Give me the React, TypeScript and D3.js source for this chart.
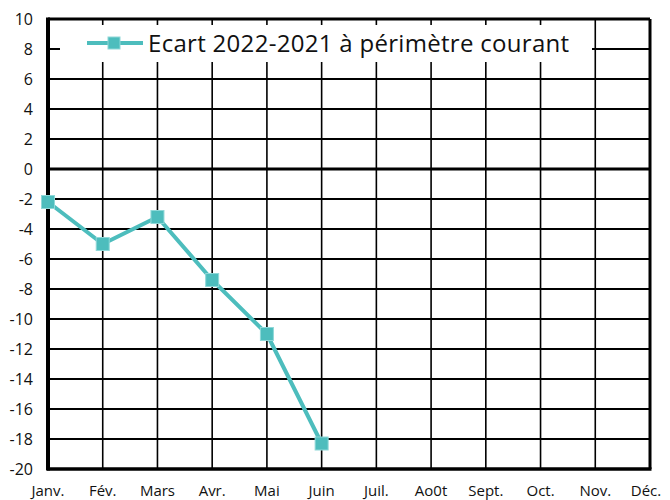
import * as d3 from "d3";

const width = 670;
const height = 500;
const marginTop = 19;
const marginBottom = 31;
const marginLeft = 48;
const marginRight = 20;

const months = ["Janv.", "Fév.", "Mars", "Avr.", "Mai", "Juin", "Juil.", "Ao0t", "Sept.", "Oct.", "Nov.", "Déc."];
const ecartMonths = ["Janv.", "Fév.", "Mars", "Avr.", "Mai", "Juin"];
const ecartValues = [-2.2, -5.0, -3.2, -7.4, -11.0, -18.3];
const yTicks = [10, 8, 6, 4, 2, 0, -2, -4, -6, -8, -10, -12, -14, -16, -18, -20];
const seriesName = "Ecart 2022-2021 à périmètre courant";

const teal = "#4dbdbd";
const font = "'Open Sans', sans-serif";

export default function App() {
	const x = d3
		.scalePoint<string>()
		.domain(months)
		.range([marginLeft, width - marginRight])
		.padding(0);

	const y = d3
		.scaleLinear()
		.domain([-20, 10])
		.range([height - marginBottom, marginTop]);

	const points = ecartMonths.map((m, i) => ({ m, v: ecartValues[i] }));

	const line = d3
		.line<{ m: string; v: number }>()
		.x((d) => x(d.m)!)
		.y((d) => y(d.v));

	const x0 = x.range()[0];
	const x1 = x.range()[1];

	// legend box
	const lgX = 60;
	const lgY = 25;
	const lgW = 532;
	const lgH = 37;

	return (
		<svg
			width={width}
			height={height}
			style={{ position: "absolute", left: 0, top: 0, background: "#fff" }}
		>
			{/* horizontal grid */}
			<g>
				{yTicks.map((t) => (
					<line
						key={t}
						x1={x0}
						x2={x1}
						y1={y(t)}
						y2={y(t)}
						stroke="#000"
						strokeWidth={t === 0 ? 3 : 2}
					/>
				))}
			</g>
			{/* vertical grid */}
			<g>
				{months.map((m) => (
					<line
						key={m}
						x1={x(m)}
						x2={x(m)}
						y1={y(10)}
						y2={y(-20)}
						stroke="#000"
						strokeWidth={1.6}
					/>
				))}
			</g>
			{/* frame */}
			<line x1={x0} x2={x1} y1={y(10)} y2={y(10)} stroke="#000" strokeWidth={3} />
			<line x1={x1} x2={x1} y1={y(10)} y2={y(-20)} stroke="#000" strokeWidth={3} />
			<line x1={x0 - 1} x2={x1 + 1.5} y1={y(-20)} y2={y(-20)} stroke="#000" strokeWidth={3.5} />
			<line x1={x0} x2={x0} y1={y(10) - 1.5} y2={y(-20) + 1.5} stroke="#000" strokeWidth={4} />

			{/* legend */}
			<rect x={lgX} y={lgY} width={lgW} height={lgH} fill="#fff" />
			<line x1={87} x2={143} y1={43} y2={43} stroke={teal} strokeWidth={4} />
			<rect x={108} y={37} width={12} height={12} fill={teal} stroke="#8fd8d8" strokeWidth={1} />
			<text x={148} y={52} fontFamily={font} fontSize={24} letterSpacing={0.3} fill="#111">
				{seriesName}
			</text>

			{/* series */}
			<path d={line(points) ?? ""} fill="none" stroke={teal} strokeWidth={4} strokeLinejoin="round" />
			{points.map((d) => (
				<rect
					key={d.m}
					x={x(d.m)! - 6.5}
					y={y(d.v) - 6.5}
					width={13}
					height={13}
					fill={teal}
					stroke="#8fd8d8"
					strokeWidth={1}
				/>
			))}

			{/* y tick labels */}
			<g>
				{yTicks.map((t) => (
					<text
						key={t}
						x={33}
						y={y(t)}
						dy="0.35em"
						textAnchor="end"
						fontFamily={font}
						fontSize={16}
						fill="#111"
					>
						{t}
					</text>
				))}
			</g>
			{/* x tick labels */}
			<g>
				{months.map((m, i) => (
					<text
						key={m}
						x={i === months.length - 1 ? x(m)! - 4 : x(m)!}
						y={496}
						textAnchor="middle"
						fontFamily={font}
						fontSize={15}
						fill="#111"
					>
						{m}
					</text>
				))}
			</g>
		</svg>
	);
}
